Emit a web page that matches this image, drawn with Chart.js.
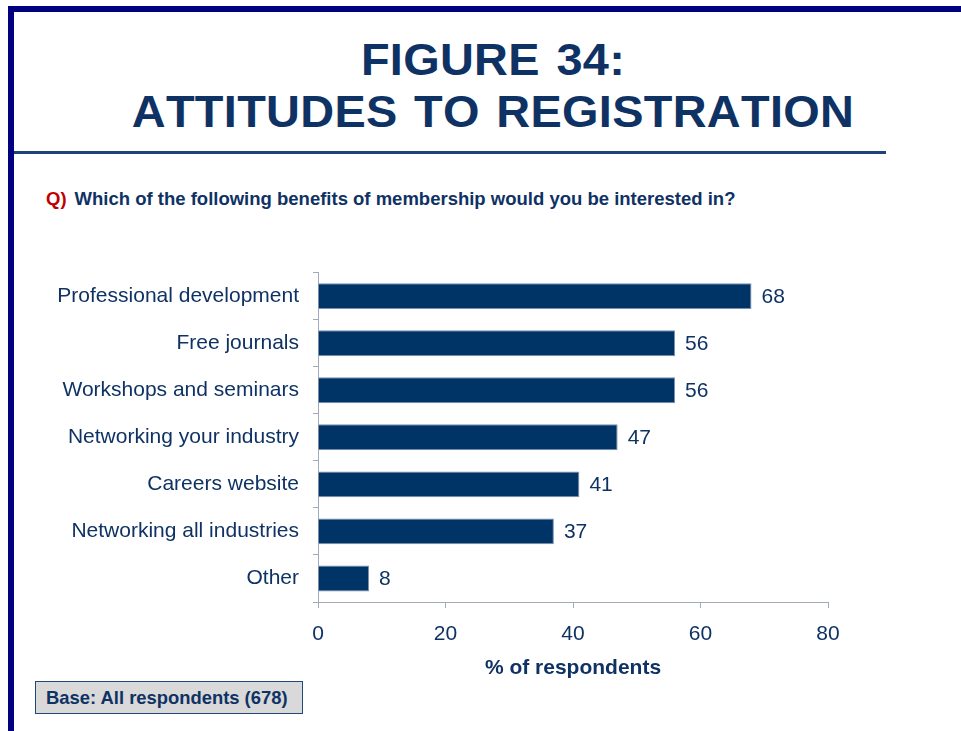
<!DOCTYPE html>
<html>
<head>
  <title>Figure 34: Attitudes to registration</title>
  <meta charset="utf-8" />
  <script src="https://cdn.jsdelivr.net/npm/chart.js"></script>
  <style>
    body { margin: 0; background: #fff; font-family: "Liberation Sans", Arial, sans-serif; }
    .page { position: relative; width: 961px; height: 731px; overflow: hidden; }
    .bar-top { position: absolute; left: 8px; top: 6px; width: 953px; height: 6px; background: #000080; }
    .bar-left { position: absolute; left: 8px; top: 6px; width: 6px; height: 725px; background: #000080; }
    .title { position: absolute; left: 0; top: 34px; width: 986px; text-align: center;
             font-size: 44px; line-height: 52px; font-weight: bold; color: #0f3264;
             font-kerning: none; letter-spacing: 0.3px; word-spacing: 3px;
             transform: scaleX(1.065); transform-origin: 493px 0; }
    .rule { position: absolute; left: 14px; top: 151px; width: 872px; height: 3px; background: #1c4577; }
    .question { position: absolute; left: 46px; top: 188px; font-size: 18.5px; font-weight: bold; color: #0f3264; white-space: nowrap; }
    .question span { color: #c00000; margin-right: 8px; }
    .chart-wrap { position: absolute; left: 0; top: 246px; width: 900px; height: 444px; }
    .base { position: absolute; left: 35px; top: 681px; width: 256px; height: 31px; background: #d9d9d9;
            border: 1px solid #1f497d; font-size: 18.4px; font-weight: bold; color: #0f3264;
            line-height: 31px; padding-left: 10px; box-sizing: content-box; white-space: nowrap; }
  </style>
</head>
<body>
<div class="page">
  <div class="bar-top"></div>
  <div class="bar-left"></div>
  <div class="title">FIGURE 34:<br>ATTITUDES TO REGISTRATION</div>
  <div class="rule"></div>
  <div class="question"><span>Q)</span>Which of the following benefits of membership would you be interested in?</div>
  <div class="chart-wrap"><canvas id="chart"></canvas></div>
  <div class="base">Base: All respondents (678)</div>
</div>

<script>
  // benefits of membership, % of respondents interested
  var categories = ['Professional development', 'Free journals', 'Workshops and seminars',
    'Networking your industry', 'Careers website', 'Networking all industries', 'Other'];
  var values = [68, 56, 56, 47, 41, 37, 8];
  var xTicks = [0, 20, 40, 60, 80];

  var navy = '#0f3264';
  var axisGrey = '#a3aabb';
  var font = '"Liberation Sans", Arial, sans-serif';

  // writes the value just past the end of each bar
  var valueLabels = {
    id: 'valueLabels',
    afterDatasetsDraw: function(chart) {
      var ctx = chart.ctx;
      var meta = chart.getDatasetMeta(0);
      ctx.save();
      ctx.font = '21px ' + font;
      ctx.fillStyle = navy;
      ctx.textAlign = 'left';
      ctx.textBaseline = 'middle';
      meta.data.forEach(function(bar, i) {
        ctx.fillText(values[i], bar.x + 10, bar.y + 1);
      });
      ctx.restore();
    }
  };

  var ctx = document.getElementById('chart').getContext('2d');
  var chart = new Chart(ctx, {
    type: 'bar',
    data: {
      labels: categories,
      datasets: [{
        data: values,
        backgroundColor: '#003366',
        borderColor: '#7d8fae',
        borderWidth: 1,
        barPercentage: 0.55,
        categoryPercentage: 1
      }]
    },
    options: {
      indexAxis: 'y',
      responsive: true,
      maintainAspectRatio: false,
      animation: false,
      layout: { padding: { top: 0, right: 72, bottom: 0, left: 0 } },
      plugins: {
        legend: { display: false },
        tooltip: { enabled: false }
      },
      scales: {
        x: {
          min: 0,
          max: 80,
          afterBuildTicks: function(scale) {
            scale.ticks = xTicks.map(function(v) { return { value: v }; });
          },
          afterFit: function(scale) { scale.height = 88; },
          grid: { drawOnChartArea: false, drawTicks: true, tickLength: 6, color: axisGrey },
          border: { display: true, color: axisGrey },
          ticks: { color: navy, font: { family: font, size: 21 }, padding: 14, maxRotation: 0 },
          title: {
            display: true,
            text: '% of respondents',
            color: navy,
            font: { family: font, size: 21, weight: 'bold' },
            padding: { top: 0, bottom: 9 }
          }
        },
        y: {
          afterFit: function(scale) { scale.width = 318; },
          grid: { drawOnChartArea: false, drawTicks: true, tickLength: 5, color: axisGrey, offset: true },
          border: { display: true, color: axisGrey },
          ticks: { color: navy, font: { family: font, size: 21 }, padding: 14 }
        }
      }
    },
    plugins: [valueLabels]
  });
</script>
</body>
</html>
